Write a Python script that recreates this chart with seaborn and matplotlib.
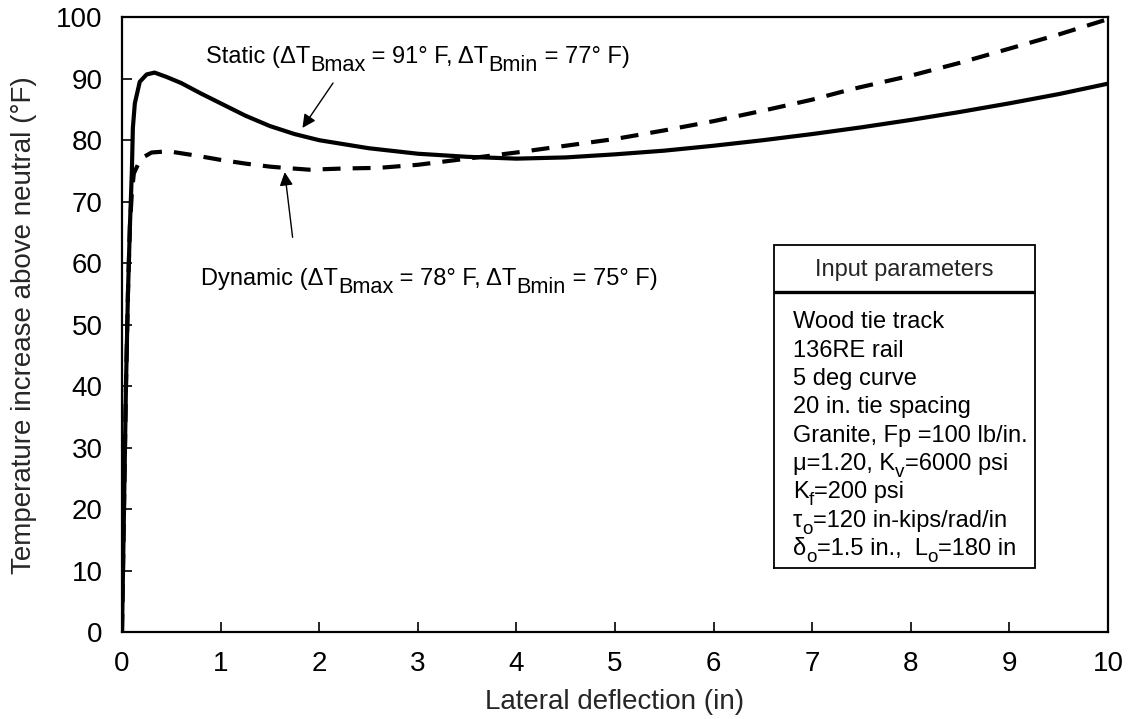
import matplotlib
matplotlib.use("Agg")
import matplotlib.pyplot as plt
import matplotlib.transforms as mtransforms
import seaborn as sns
import pandas as pd

# Static and dynamic buckling response curves
static_x = [0.0, 0.02, 0.04, 0.06, 0.08, 0.1, 0.11, 0.13, 0.18, 0.25, 0.33, 0.45, 0.6, 0.8, 1.0, 1.25, 1.5,
            1.75, 2.0, 2.5, 3.0, 3.5, 4.0, 4.5, 5.0, 5.5, 6.0, 6.5, 7.0, 7.5, 8.0, 8.5, 9.0, 9.5, 10.0]
static_y = [0.0, 20.0, 40.0, 55.0, 66.0, 75.0, 82.0, 86.0, 89.5, 90.7, 91.0, 90.3, 89.3, 87.6, 86.0, 84.0, 82.3,
            81.0, 80.0, 78.7, 77.8, 77.3, 77.0, 77.2, 77.7, 78.3, 79.1, 80.0, 81.0, 82.1, 83.3, 84.6, 86.0, 87.5, 89.2]

dynamic_x = [0.0, 0.02, 0.04, 0.06, 0.08, 0.1, 0.12, 0.19, 0.3, 0.47, 0.75, 1.0, 1.25, 1.5, 1.65, 1.9,
             2.25, 2.6, 3.0, 3.5, 4.0, 4.5, 5.0, 5.5, 6.0, 6.5, 7.0, 7.4, 8.0, 8.5, 9.0, 9.5, 10.0]
dynamic_y = [0.0, 20.0, 40.0, 55.0, 66.0, 71.5, 74.6, 77.0, 78.0, 78.2, 77.5, 76.8, 76.2, 75.7, 75.5, 75.2,
             75.4, 75.5, 76.0, 77.0, 78.0, 79.1, 80.2, 81.6, 83.1, 84.8, 86.6, 88.3, 90.5, 92.6, 94.9, 97.2, 99.7]

x_ticks = list(range(0, 11))
y_ticks = list(range(0, 101, 10))

x_label = "Lateral deflection (in)"
y_label = "Temperature increase above neutral (°F)"

# Curve labels: (text, "n" normal / "s" subscript)
static_label = [("Static (ΔT", "n"), ("Bmax", "s"), (" = 91° F, ΔT", "n"), ("Bmin", "s"), (" = 77° F)", "n")]
dynamic_label = [("Dynamic (ΔT", "n"), ("Bmax", "s"), (" = 78° F, ΔT", "n"), ("Bmin", "s"), (" = 75° F)", "n")]

box_title = "Input parameters"
box_lines = [
    [("Wood tie track", "n")],
    [("136RE rail", "n")],
    [("5 deg curve", "n")],
    [("20 in. tie spacing", "n")],
    [("Granite, Fp =100 lb/in.", "n")],
    [("μ=1.20, K", "n"), ("v", "s"), ("=6000 psi", "n")],
    [("K", "n"), ("f", "s"), ("=200 psi", "n")],
    [("τ", "n"), ("o", "s"), ("=120 in-kips/rad/in", "n")],
    [("δ", "n"), ("o", "s"), ("=1.5 in.,  L", "n"), ("o", "s"), ("=180 in", "n")],
]

sns.set_theme(style="white")
plt.rcParams["font.family"] = ["Liberation Sans", "DejaVu Sans"]

df = pd.concat([
    pd.DataFrame({"x": static_x, "y": static_y, "case": "Static"}),
    pd.DataFrame({"x": dynamic_x, "y": dynamic_y, "case": "Dynamic"}),
], ignore_index=True)

fig = plt.figure(figsize=(11.34, 7.19), dpi=100)
ax = fig.add_axes([0.1076, 0.121, 0.8695, 0.855])

sns.lineplot(data=df, x="x", y="y", hue="case", style="case",
             hue_order=["Static", "Dynamic"], style_order=["Static", "Dynamic"],
             palette=["black", "black"], dashes=["", (4.3, 2.9)],
             linewidth=3.0, sort=False, estimator=None, legend=False, ax=ax)
for ln in ax.lines:
    ln.set_solid_capstyle("butt")
    ln.set_dash_capstyle("butt")

ax.set_xlim(0, 10)
ax.set_ylim(0, 100)
ax.set_xticks(x_ticks)
ax.set_yticks(y_ticks)
ax.tick_params(axis="both", direction="in", length=7, width=1.2, labelsize=20,
               colors="black", pad=14, top=False, right=False, bottom=True, left=True)
ax.set_xlabel(x_label, fontsize=20, labelpad=8)
ax.set_ylabel(y_label, fontsize=20, labelpad=14)
for s in ax.spines.values():
    s.set_color("black")
    s.set_linewidth(1.6)
    s.set_visible(True)
ax.grid(False)

renderer = fig.canvas.get_renderer()


def text_width(s, size):
    """Advance width of s in pixels, spaces included."""
    def w(t):
        tt = fig.text(0, 0, t, fontsize=size)
        ext = tt.get_window_extent(renderer).width
        tt.remove()
        return ext
    return w("|" + s + "|") - w("||")


def rich_text(x, y, parts, size, sub_scale=0.85, sub_drop=0.33):
    """Draw text with subscripts, left-aligned on the baseline at data (x, y)."""
    px = size * fig.dpi / 72.0
    dx = 0.0
    for s, kind in parts:
        fs = size * sub_scale if kind == "s" else size
        dy = -sub_drop * px if kind == "s" else 0.0
        tr = mtransforms.offset_copy(ax.transData, fig=fig, x=dx, y=dy, units="dots")
        ax.text(x, y, s, fontsize=fs, transform=tr, ha="left", va="baseline", color="black")
        dx += text_width(s, fs)


label_size = 17
rich_text(0.85, 92.5, static_label, label_size, sub_scale=0.92, sub_drop=0.33)
rich_text(0.80, 56.4, dynamic_label, label_size, sub_scale=0.92, sub_drop=0.33)

arrow = dict(arrowstyle="-|>", color="black", lw=1.0, shrinkA=0, shrinkB=0, mutation_scale=20)
ax.annotate("", xy=(1.83, 82.0), xytext=(2.14, 89.3), arrowprops=arrow)
ax.annotate("", xy=(1.65, 74.8), xytext=(1.73, 64.2), arrowprops=arrow)

# Parameter box
bx0, bx1, by0, by1, byh = 6.61, 9.26, 10.4, 62.9, 55.3
ax.plot([bx0, bx1, bx1, bx0, bx0], [by0, by0, by1, by1, by0], color="black", lw=1.3,
        solid_joinstyle="miter")
ax.plot([bx0, bx1], [byh, byh], color="black", lw=2.4, solid_capstyle="butt")
ax.text((bx0 + bx1) / 2, 58.9, box_title, fontsize=label_size, ha="center", va="center")
for i, parts in enumerate(box_lines):
    yy = 50.7 - i * 4.61 - 1.3
    rich_text(6.805, yy, parts, label_size, sub_scale=0.8, sub_drop=0.3)

fig.savefig("out.png", dpi=100)
